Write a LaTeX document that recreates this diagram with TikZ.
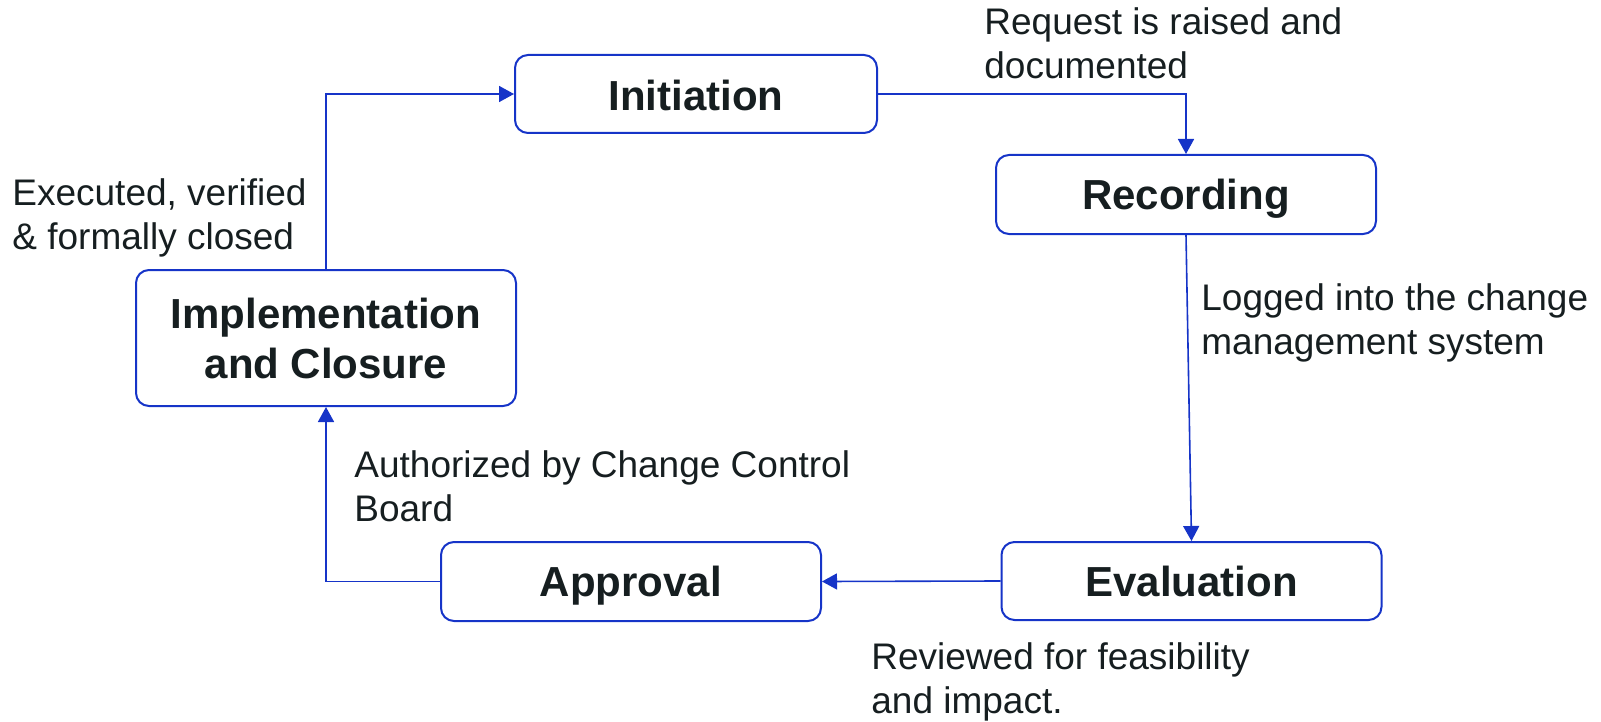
\documentclass[tikz,border=0pt]{standalone}
\usepackage{fontspec}
\setmainfont{Liberation Sans}
\usepackage{tikz}
\usetikzlibrary{arrows.meta}

\definecolor{flowblue}{RGB}{22,52,200}
\definecolor{inkdark}{RGB}{22,30,32}

\tikzset{
	stagebox/.style={draw=flowblue,line width=1pt,rounded corners=6.5pt,fill=white,text=inkdark,align=center,inner sep=0pt,minimum width=190pt,minimum height=39.5pt,font=\fontsize{21}{25}\selectfont\bfseries},
	stage/.style={stagebox,text height=15pt,text depth=0pt},
	note/.style={anchor=north west,inner sep=0pt,align=left,text=inkdark,font=\fontsize{18.5}{22.3}\selectfont},
	flow/.style={draw=flowblue,line width=0.8pt,-{Triangle[length=7.5pt,width=8pt]}}
}

\begin{document}
\begin{tikzpicture}[x=0.5pt,y=-0.5pt]
	\useasboundingbox (0,0) rectangle (1601,722);
	
	\node[stage,minimum width=181pt,minimum height=39pt,text height=17pt] (init) at (696,94) {Initiation};
	\node[stage] (rec) at (1186,194.5) {Recording};
	\node[stage,minimum height=39pt] (eval) at (1191.5,581) {Evaluation};
	\node[stage] (appr) at (631,581.5) {Approval};
	\node[stagebox,minimum height=68pt] (impl) at (326,338) {Implementation\\and Closure};
	
	\draw[flow] (init.east) -| (rec.north);
	\draw[flow] (rec.south) -- (eval.north);
	\draw[flow] (eval.west) -- (appr.east);
	\draw[flow] (appr.west) -| (impl.south);
	\draw[flow] (impl.north) |- (init.west);
	
	\node[note] (raised) at (984,7) {Request is raised and\\documented};
	\node[note] (logged) at (1201,283) {Logged into the change\\management system};
	\node[note] (closed) at (12,178) {Executed, verified\\\& formally closed};
	\node[note] (authorized) at (354,450) {Authorized by Change Control\\Board};
	\node[note] (reviewed) at (871,642) {Reviewed for feasibility\\and impact.};
\end{tikzpicture}
\end{document}
